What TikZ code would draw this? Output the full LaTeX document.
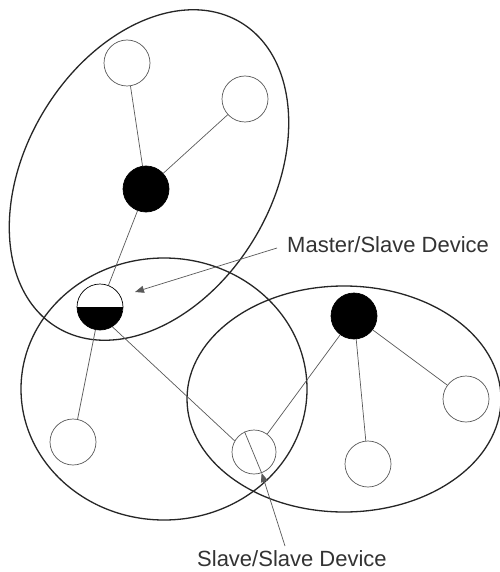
\documentclass[tikz,border=0pt]{standalone}
\usepackage{fontspec}
\setmainfont{Liberation Sans}
\usetikzlibrary{arrows.meta}
\begin{document}
\begin{tikzpicture}[x=1pt,y=-1pt,
  dev/.style={circle,draw=black!65,fill=white,line width=0.7pt,minimum size=46pt,inner sep=0pt},
  master/.style={dev,fill=black,draw=black},
  zone/.style={draw=black!85,line width=1.3pt},
  link/.style={draw=black!65,line width=0.7pt},
  pointer/.style={draw=black!65,line width=0.7pt,-{Triangle[length=9pt,width=7pt]}},
  lab/.style={font=\fontsize{22}{26}\selectfont,text=black!80,inner sep=0pt,anchor=base west}]
\useasboundingbox (0,0) rectangle (499,572);
\fill[white] (0,0) rectangle (499,572);
% piconet zones
\draw[zone,rotate around={59:(149,175)}] (149,175) ellipse [x radius=178pt,y radius=123pt];
\draw[zone] (164,389) ellipse [x radius=143pt,y radius=131pt];
\draw[zone] (344,399) ellipse [x radius=157pt,y radius=113pt];
% devices
\node[dev] (N1) at (127,63) {};
\node[dev] (N2) at (245,99) {};
\node[master] (M1) at (146,189) {};
\node[dev,draw=black,path picture={\fill[black] (path picture bounding box.west) rectangle (path picture bounding box.south east);}] (MS) at (100,307) {};
\node[dev] (L1) at (73,442) {};
\node[dev,minimum size=44pt] (SS) at (254,452) {};
\node[master] (M2) at (354,316) {};
\node[dev] (R1) at (368,464) {};
\node[dev] (R2) at (466,399) {};
% links
\draw[link] (N1) -- (M1);
\draw[link] (N2) -- (M1);
\draw[link] (M1) -- (MS);
\draw[link] (MS) -- (L1);
\draw[link] (MS.-58) -- (SS.150);
\draw[link] (M2) -- (SS);
\draw[link] (M2) -- (R1);
\draw[link] (M2) -- (R2);
% labels
\node[lab] (mslab) at (287,252) {Master/Slave Device};
\node[lab] (sslab) at (197,566) {Slave/Slave Device};
\coordinate (msfrom) at (277,248);
\coordinate (mstip) at (135,292);
\coordinate (ssfrom) at (285,546);
\draw[pointer] (msfrom) -- (mstip);
\draw[link] (SS.115) -- (SS.-70);
\draw[pointer] (ssfrom) -- (SS.-70);
\end{tikzpicture}
\end{document}
